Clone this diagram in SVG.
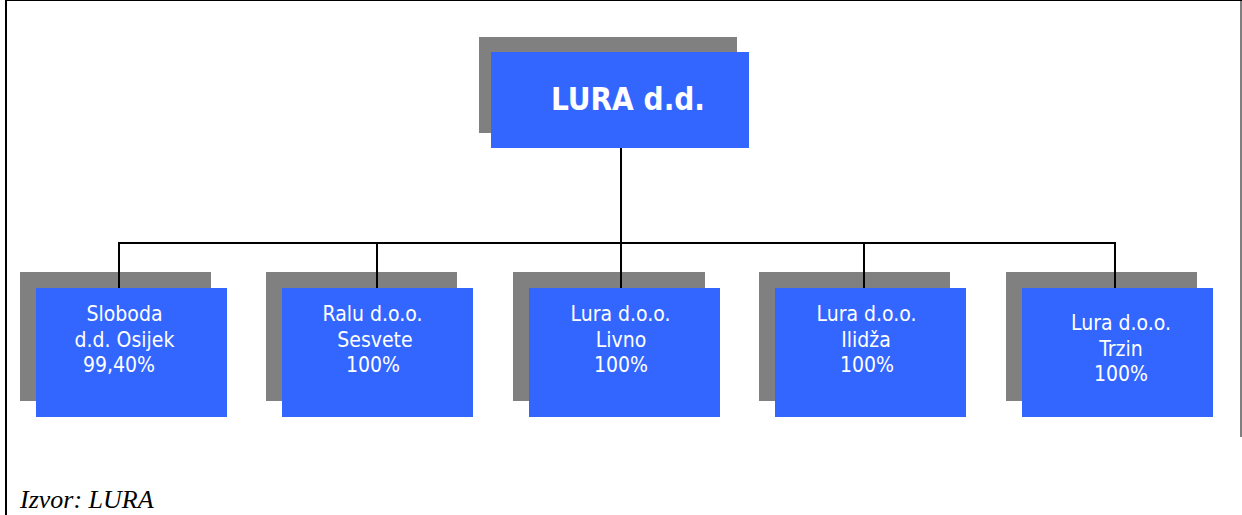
<svg xmlns="http://www.w3.org/2000/svg" width="1242" height="515" viewBox="0 0 1242 515">
<style>
.sh{fill:#808080}
.bx{fill:#3366FF}
.t{font-family:"DejaVu Sans Condensed","DejaVu Sans",sans-serif;font-size:21px;fill:#FFFFFF;text-anchor:middle}
.tt{font-family:"DejaVu Sans Condensed","DejaVu Sans",sans-serif;font-size:32px;font-weight:bold;fill:#FFFFFF}
.c{stroke:#000000;stroke-width:2;fill:none}
.f{stroke:#000000;fill:none}
</style>
<rect width="1242" height="515" fill="#FFFFFF"/>
<g id="frame">
<line class="f" x1="6" y1="0" x2="6" y2="515" stroke-width="2"/>
<line class="f" x1="5" y1="0.5" x2="1242" y2="0.5" stroke-width="1"/>
<line class="f" x1="1241" y1="0" x2="1241" y2="437" stroke-width="1"/>
</g>
<g id="node-lura">
<rect class="sh" x="479" y="37" width="258" height="96"/>
<rect class="bx" x="491" y="52" width="258" height="96"/>
<text class="tt" x="551" y="110" textLength="154" lengthAdjust="spacingAndGlyphs">LURA d.d.</text>
</g>
<g id="node-sloboda">
<rect class="sh" x="20" y="272" width="191" height="129"/>
<rect class="bx" x="36" y="288" width="191" height="129"/>
<text class="t" x="124.5" y="321">Sloboda</text>
<text class="t" x="124.5" y="347">d.d. Osijek</text>
<text class="t" x="119" y="372">99,40%</text>
</g>
<g id="node-ralu">
<rect class="sh" x="266" y="272" width="191" height="129"/>
<rect class="bx" x="282" y="288" width="191" height="129"/>
<text class="t" x="372.5" y="321">Ralu d.o.o.</text>
<text class="t" x="375" y="347">Sesvete</text>
<text class="t" x="373" y="372">100%</text>
</g>
<g id="node-livno">
<rect class="sh" x="513" y="272" width="192" height="129"/>
<rect class="bx" x="529" y="288" width="191" height="129"/>
<text class="t" x="620.5" y="321">Lura d.o.o.</text>
<text class="t" x="621" y="347">Livno</text>
<text class="t" x="621" y="372">100%</text>
</g>
<g id="node-ilidza">
<rect class="sh" x="759" y="272" width="191" height="129"/>
<rect class="bx" x="775" y="288" width="191" height="129"/>
<text class="t" x="866.5" y="321">Lura d.o.o.</text>
<text class="t" x="866" y="347">Ilidža</text>
<text class="t" x="867" y="372">100%</text>
</g>
<g id="node-trzin">
<rect class="sh" x="1006" y="272" width="191" height="129"/>
<rect class="bx" x="1022" y="288" width="191" height="129"/>
<text class="t" x="1121" y="330">Lura d.o.o.</text>
<text class="t" x="1121" y="356">Trzin</text>
<text class="t" x="1121" y="381">100%</text>
</g>
<g id="connectors">
<line class="c" x1="621" y1="148" x2="621" y2="243"/>
<line class="c" x1="118" y1="243" x2="1116" y2="243"/>
<line class="c" x1="119" y1="242" x2="119" y2="288"/>
<line class="c" x1="377" y1="242" x2="377" y2="288"/>
<line class="c" x1="621" y1="242" x2="621" y2="288"/>
<line class="c" x1="864" y1="242" x2="864" y2="288"/>
<line class="c" x1="1115" y1="242" x2="1115" y2="288"/>
</g>
<text x="20" y="508" font-family="'Liberation Serif',serif" font-style="italic" font-size="26" fill="#000000">Izvor: LURA</text>
</svg>
